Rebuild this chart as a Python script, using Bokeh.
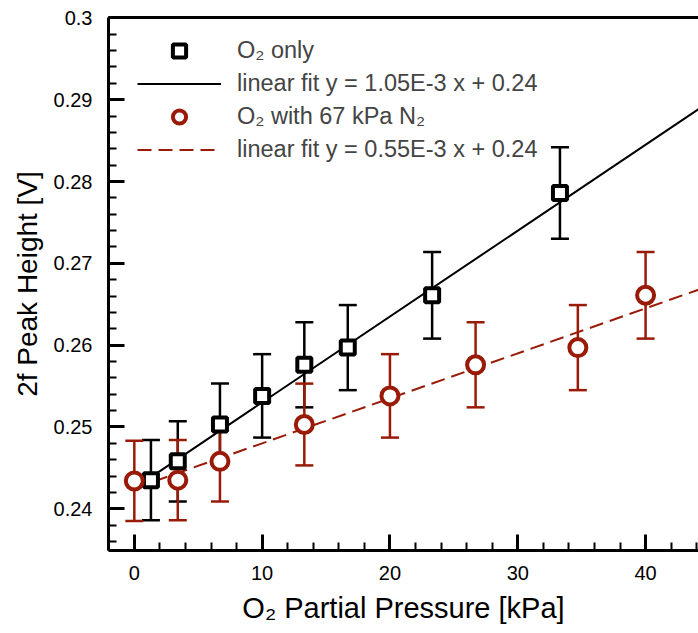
from bokeh.plotting import figure
from bokeh.models import (Range1d, LinearAxis, SingleIntervalTicker, FixedTicker, Whisker, TeeHead,
                          ColumnDataSource, Legend, LegendItem, CustomJSTickFormatter)
from bokeh.embed import file_html
from bokeh.resources import INLINE

# ---- data ----
o2_x = [1.3, 3.4, 6.7, 10.0, 13.3, 16.7, 23.3, 33.3]
o2_y = [0.2435, 0.2458, 0.2503, 0.2538, 0.2576, 0.2597, 0.2661, 0.2786]
o2_err = [0.0049, 0.0049, 0.0050, 0.0051, 0.0052, 0.0052, 0.0053, 0.0056]

n2_x = [0.0, 3.4, 6.7, 13.3, 20.0, 26.7, 34.7, 40.0]
n2_y = [0.2434, 0.2435, 0.2458, 0.2503, 0.2538, 0.2576, 0.2597, 0.2661]
n2_err = [0.0049, 0.0049, 0.0049, 0.0050, 0.0051, 0.0052, 0.0052, 0.0053]

o2_fit_slope, o2_fit_icpt = 1.05e-3, 0.2425
n2_fit_slope, n2_fit_icpt = 0.55e-3, 0.2425
fit_x = [0.0, 45.0]

labels = ["O\u2082 only",
          "linear fit y = 1.05E-3 x + 0.24",
          "O\u2082 with 67 kPa N\u2082",
          "linear fit y = 0.55E-3 x + 0.24"]

RED = "#991a06"
FONT = "Liberation Sans"

p = figure(width=698, height=633, output_backend="svg", toolbar_location=None,
           x_range=Range1d(-2.02, 44.14), y_range=Range1d(0.2349, 0.30005),
           min_border_left=108, min_border_right=0, min_border_top=17, min_border_bottom=83)
p.xaxis.visible = False
p.yaxis.visible = False
p.grid.visible = False
p.outline_line_color = None
p.background_fill_color = "white"

def style_axis(ax):
    ax.axis_line_width = 3
    ax.axis_line_color = "black"
    ax.major_tick_in = 16
    ax.major_tick_out = 0
    ax.minor_tick_in = 8
    ax.minor_tick_out = 0
    ax.major_tick_line_width = 3
    ax.minor_tick_line_width = 2
    ax.major_tick_line_color = "black"
    ax.minor_tick_line_color = "black"
    ax.major_label_text_font = FONT
    ax.major_label_text_font_size = "20px"
    ax.major_label_text_color = "black"
    ax.axis_label_text_font = FONT
    ax.axis_label_text_font_size = "28px"
    ax.axis_label_text_font_style = "normal"
    ax.axis_label_text_color = "black"

xaxis = LinearAxis(ticker=SingleIntervalTicker(interval=10, num_minor_ticks=5),
                   axis_label="O\u2082 Partial Pressure [kPa]")
style_axis(xaxis)
xaxis.axis_label_text_font_size = "29px"
xaxis.major_label_standoff = 15
xaxis.axis_label_standoff = 9
p.add_layout(xaxis, "below")

yaxis = LinearAxis(ticker=SingleIntervalTicker(interval=0.01, num_minor_ticks=5),
                   axis_label="2f Peak Height [V]",
                   formatter=CustomJSTickFormatter(code="return String(Number(tick.toFixed(3)));"))
style_axis(yaxis)
yaxis.major_label_standoff = 16
yaxis.axis_label_standoff = 8
p.add_layout(yaxis, "left")

top = LinearAxis(ticker=FixedTicker(ticks=[]), axis_line_width=3, axis_line_color="black",
                 major_tick_line_color=None, minor_tick_line_color=None,
                 major_label_text_font_size="0px", major_label_standoff=0)
p.add_layout(top, "above")

# error bars
src_o2 = ColumnDataSource(dict(x=o2_x, y=o2_y,
                               lo=[a - b for a, b in zip(o2_y, o2_err)],
                               hi=[a + b for a, b in zip(o2_y, o2_err)]))
src_n2 = ColumnDataSource(dict(x=n2_x, y=n2_y,
                               lo=[a - b for a, b in zip(n2_y, n2_err)],
                               hi=[a + b for a, b in zip(n2_y, n2_err)]))

for src, col in ((src_o2, "black"), (src_n2, RED)):
    w = Whisker(source=src, base="x", lower="lo", upper="hi",
                line_color=col, line_width=2.5,
                upper_head=TeeHead(size=18, line_color=col, line_width=2.5),
                lower_head=TeeHead(size=18, line_color=col, line_width=2.5))
    p.add_layout(w)

# fit lines
l1 = p.line(fit_x, [o2_fit_icpt + o2_fit_slope * v for v in fit_x], line_color="black", line_width=2)
l2 = p.line(fit_x, [n2_fit_icpt + n2_fit_slope * v for v in fit_x], line_color=RED, line_width=2,
            line_dash="14 7")

s1 = p.scatter("x", "y", source=src_o2, marker="square", size=14, line_color="black",
               line_width=4, fill_color="white")
s2 = p.scatter("x", "y", source=src_n2, marker="circle", size=17, line_color=RED,
               line_width=4, fill_color="white")

legend = Legend(items=[LegendItem(label=labels[0], renderers=[s1]),
                       LegendItem(label=labels[1], renderers=[l1]),
                       LegendItem(label=labels[2], renderers=[s2]),
                       LegendItem(label=labels[3], renderers=[l2])],
                location=(29, 384), glyph_width=84, glyph_height=33, label_standoff=16,
                spacing=0, padding=0, margin=0, label_height=33,
                label_text_font=FONT, label_text_font_size="23.5px",
                background_fill_alpha=0, border_line_color=None)
p.add_layout(legend, "center")

open("out.html", "w").write(file_html(p, INLINE))
